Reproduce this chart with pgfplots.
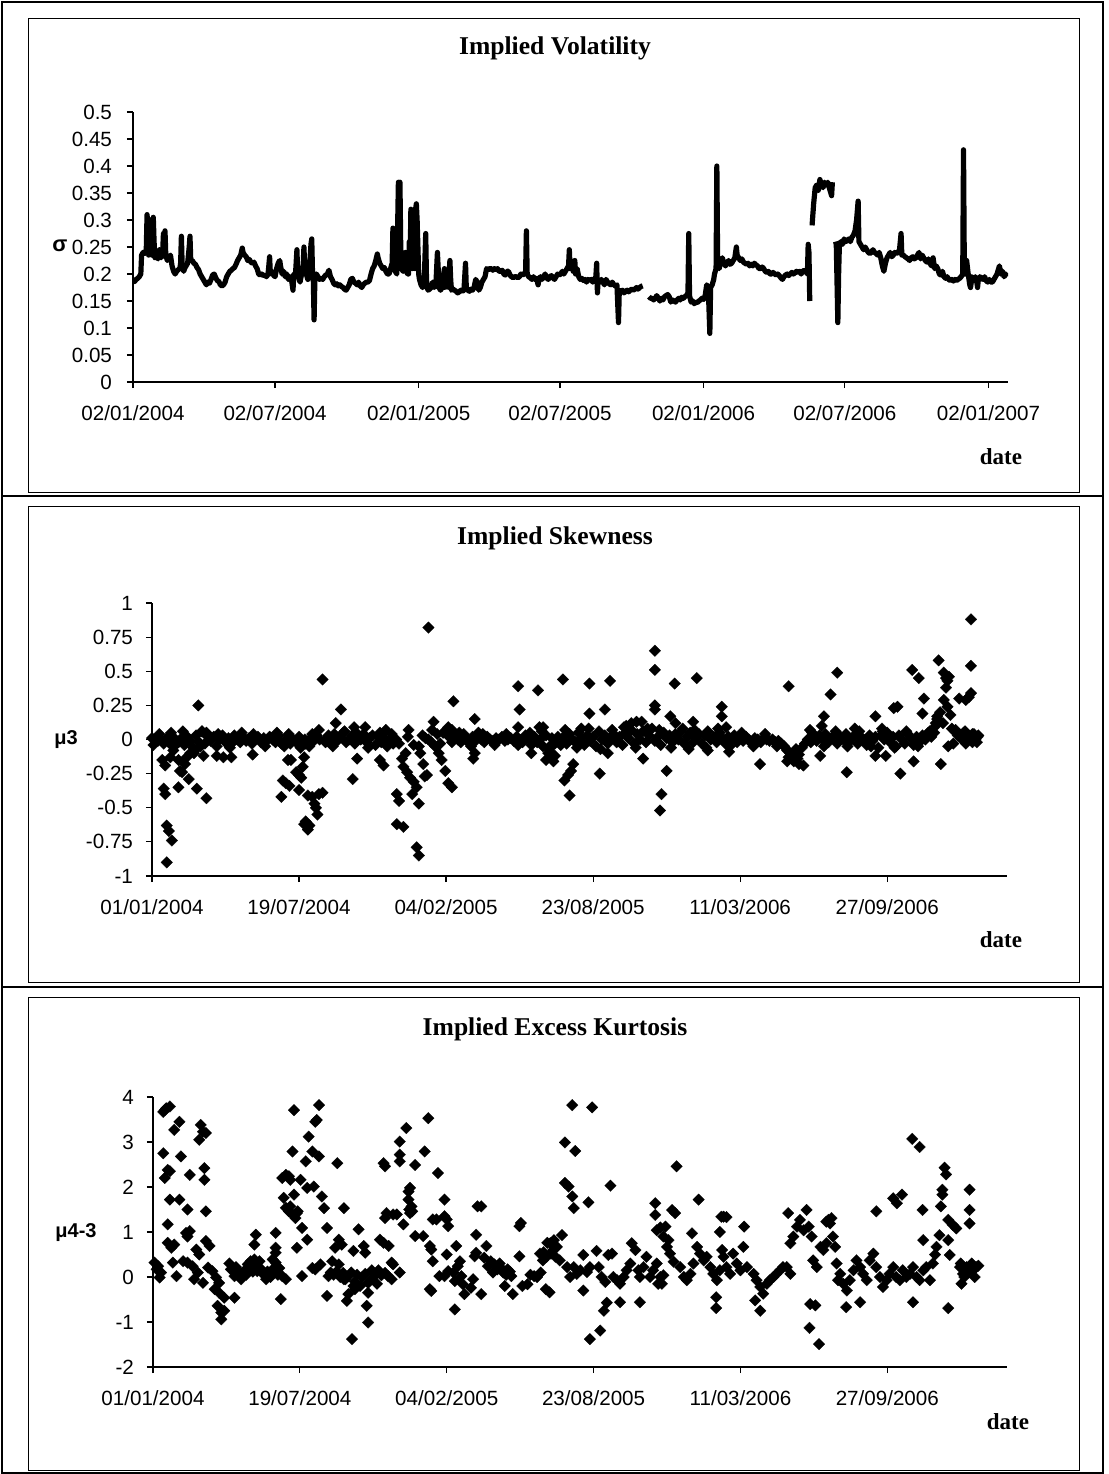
\documentclass[border=0pt]{standalone}
\usepackage{fontspec}
\setmainfont{Liberation Sans}
\newfontfamily\tnr{Liberation Serif}
\usepackage{pgfplots}
\usepackage{pgfplotstable}
\pgfplotsset{compat=1.18}

\pgfplotstableread[row sep=\\]{
x y\\
0 0.188\\ 2 0.186\\ 4 0.19\\ 6 0.192\\ 8 0.195\\ 10 0.2\\ 11 0.235\\ 13 0.24\\ 15 0.238\\ 17 0.245\\ 18 0.31\\ 19 0.29\\ 20 0.235\\ 22 0.30\\ 23 0.25\\ 24 0.235\\ 26 0.305\\ 27 0.26\\ 28 0.23\\ 30 0.232\\ 32 0.228\\ 34 0.245\\ 36 0.23\\ 38 0.24\\ 39 0.275\\ 40 0.235\\ 41 0.28\\ 42 0.235\\ 44 0.225\\ 46 0.23\\ 48 0.235\\ 50 0.215\\ 52 0.205\\ 54 0.2\\ 56 0.205\\ 58 0.208\\ 60 0.21\\ 61 0.22\\ 62 0.27\\ 63 0.215\\ 65 0.205\\ 66 0.21\\ 68 0.215\\ 70 0.22\\ 72 0.25\\ 73 0.27\\ 74 0.225\\ 76 0.225\\ 78 0.22\\ 80 0.218\\ 82 0.212\\ 84 0.208\\ 86 0.2\\ 88 0.195\\ 90 0.19\\ 92 0.185\\ 94 0.18\\ 96 0.185\\ 98 0.183\\ 100 0.19\\ 102 0.198\\ 104 0.2\\ 106 0.193\\ 108 0.188\\ 110 0.186\\ 112 0.18\\ 114 0.178\\ 116 0.18\\ 118 0.185\\ 120 0.195\\ 122 0.2\\ 124 0.205\\ 126 0.207\\ 128 0.21\\ 130 0.212\\ 132 0.218\\ 134 0.225\\ 136 0.23\\ 138 0.235\\ 140 0.248\\ 141 0.24\\ 143 0.235\\ 145 0.232\\ 147 0.225\\ 149 0.227\\ 151 0.222\\ 153 0.22\\ 155 0.222\\ 157 0.215\\ 159 0.21\\ 161 0.2\\ 163 0.198\\ 165 0.2\\ 167 0.197\\ 169 0.198\\ 171 0.195\\ 173 0.2\\ 174 0.215\\ 175 0.232\\ 176 0.2\\ 178 0.205\\ 180 0.198\\ 182 0.195\\ 184 0.21\\ 186 0.22\\ 188 0.225\\ 189 0.215\\ 191 0.2\\ 193 0.205\\ 195 0.195\\ 197 0.2\\ 199 0.19\\ 201 0.195\\ 203 0.19\\ 205 0.17\\ 206 0.2\\ 208 0.195\\ 210 0.245\\ 211 0.2\\ 213 0.19\\ 214 0.185\\ 216 0.2\\ 218 0.215\\ 219 0.25\\ 220 0.21\\ 222 0.2\\ 224 0.19\\ 226 0.21\\ 228 0.255\\ 229 0.265\\ 230 0.2\\ 231 0.19\\ 232 0.115\\ 233 0.19\\ 235 0.2\\ 237 0.195\\ 239 0.19\\ 241 0.192\\ 243 0.19\\ 245 0.195\\ 247 0.198\\ 249 0.2\\ 251 0.207\\ 253 0.195\\ 255 0.19\\ 257 0.183\\ 259 0.18\\ 261 0.182\\ 263 0.178\\ 265 0.18\\ 267 0.177\\ 269 0.175\\ 271 0.172\\ 273 0.17\\ 275 0.175\\ 277 0.18\\ 279 0.19\\ 281 0.192\\ 283 0.185\\ 285 0.183\\ 287 0.18\\ 289 0.185\\ 291 0.178\\ 293 0.175\\ 295 0.18\\ 297 0.183\\ 299 0.185\\ 301 0.185\\ 303 0.188\\ 305 0.2\\ 307 0.21\\ 309 0.215\\ 311 0.225\\ 313 0.237\\ 314 0.23\\ 316 0.22\\ 318 0.215\\ 320 0.21\\ 322 0.212\\ 324 0.205\\ 326 0.2\\ 328 0.2\\ 330 0.21\\ 332 0.22\\ 333 0.285\\ 334 0.21\\ 336 0.205\\ 338 0.2\\ 340 0.37\\ 341 0.3\\ 342 0.37\\ 343 0.25\\ 344 0.21\\ 346 0.205\\ 348 0.21\\ 349 0.24\\ 350 0.205\\ 352 0.2\\ 353 0.2\\ 354 0.26\\ 355 0.215\\ 356 0.32\\ 357 0.29\\ 358 0.21\\ 359 0.26\\ 360 0.27\\ 361 0.21\\ 362 0.32\\ 363 0.33\\ 364 0.3\\ 365 0.25\\ 366 0.2\\ 367 0.19\\ 369 0.18\\ 371 0.175\\ 373 0.18\\ 375 0.275\\ 376 0.19\\ 377 0.175\\ 378 0.17\\ 380 0.172\\ 382 0.175\\ 384 0.185\\ 386 0.175\\ 388 0.18\\ 390 0.24\\ 391 0.21\\ 392 0.175\\ 394 0.17\\ 396 0.175\\ 398 0.2\\ 399 0.21\\ 400 0.175\\ 402 0.178\\ 404 0.175\\ 406 0.225\\ 407 0.19\\ 408 0.17\\ 410 0.172\\ 412 0.17\\ 414 0.168\\ 416 0.165\\ 418 0.167\\ 420 0.17\\ 422 0.168\\ 424 0.17\\ 426 0.22\\ 427 0.175\\ 429 0.17\\ 431 0.168\\ 433 0.172\\ 435 0.17\\ 437 0.175\\ 439 0.19\\ 441 0.185\\ 443 0.17\\ 445 0.175\\ 447 0.185\\ 449 0.19\\ 451 0.195\\ 453 0.21\\ 455 0.208\\ 457 0.21\\ 459 0.21\\ 461 0.207\\ 463 0.21\\ 465 0.208\\ 467 0.21\\ 469 0.205\\ 471 0.205\\ 473 0.207\\ 475 0.2\\ 477 0.198\\ 479 0.205\\ 481 0.205\\ 483 0.198\\ 485 0.195\\ 487 0.193\\ 489 0.195\\ 491 0.195\\ 493 0.193\\ 495 0.195\\ 497 0.2\\ 499 0.198\\ 501 0.2\\ 503 0.205\\ 504 0.28\\ 505 0.2\\ 507 0.195\\ 509 0.193\\ 511 0.19\\ 513 0.195\\ 515 0.19\\ 517 0.192\\ 519 0.18\\ 520 0.19\\ 522 0.195\\ 524 0.19\\ 526 0.195\\ 528 0.2\\ 530 0.193\\ 532 0.19\\ 534 0.195\\ 536 0.197\\ 538 0.193\\ 540 0.19\\ 542 0.195\\ 544 0.2\\ 546 0.198\\ 548 0.2\\ 550 0.205\\ 552 0.2\\ 554 0.205\\ 556 0.21\\ 558 0.215\\ 559 0.245\\ 560 0.21\\ 562 0.215\\ 564 0.205\\ 566 0.225\\ 567 0.2\\ 569 0.21\\ 571 0.195\\ 573 0.19\\ 575 0.192\\ 577 0.188\\ 579 0.19\\ 581 0.185\\ 583 0.19\\ 585 0.188\\ 587 0.19\\ 589 0.185\\ 591 0.19\\ 593 0.195\\ 594 0.22\\ 595 0.165\\ 596 0.19\\ 598 0.185\\ 600 0.19\\ 602 0.185\\ 604 0.18\\ 606 0.19\\ 608 0.185\\ 610 0.182\\ 612 0.18\\ 614 0.185\\ 616 0.18\\ 618 0.178\\ 620 0.18\\ 622 0.11\\ 623 0.17\\ 625 0.168\\ 627 0.17\\ 629 0.165\\ 631 0.168\\ 633 0.17\\ 635 0.167\\ 637 0.17\\ 639 0.172\\ 641 0.17\\ 643 0.172\\ 645 0.175\\ 647 0.172\\ 649 0.175\\ 651 0.177\\ 653 0.178\\ 655 nan\\ 661 0.158\\ 663 0.155\\ 665 0.155\\ 667 0.152\\ 669 0.155\\ 671 0.16\\ 673 0.155\\ 675 0.15\\ 677 0.155\\ 679 0.152\\ 681 0.158\\ 683 0.16\\ 685 0.162\\ 687 0.158\\ 689 0.148\\ 691 0.152\\ 693 0.15\\ 695 0.148\\ 697 0.152\\ 699 0.155\\ 701 0.152\\ 703 0.157\\ 705 0.155\\ 707 0.158\\ 709 0.16\\ 711 0.165\\ 712 0.275\\ 713 0.16\\ 715 0.148\\ 717 0.15\\ 719 0.145\\ 721 0.148\\ 723 0.147\\ 725 0.15\\ 727 0.152\\ 729 0.155\\ 731 0.153\\ 733 0.16\\ 735 0.18\\ 737 0.175\\ 739 0.09\\ 740 0.175\\ 742 0.18\\ 744 0.19\\ 745 0.2\\ 747 0.21\\ 748 0.4\\ 749 0.22\\ 751 0.21\\ 753 0.225\\ 755 0.23\\ 757 0.22\\ 759 0.215\\ 761 0.22\\ 763 0.225\\ 765 0.218\\ 767 0.22\\ 769 0.225\\ 771 0.23\\ 773 0.25\\ 774 0.235\\ 776 0.23\\ 778 0.225\\ 780 0.228\\ 782 0.222\\ 784 0.22\\ 786 0.218\\ 788 0.22\\ 790 0.215\\ 792 0.218\\ 794 0.215\\ 796 0.22\\ 798 0.217\\ 800 0.215\\ 802 0.21\\ 804 0.21\\ 806 0.213\\ 808 0.21\\ 810 0.205\\ 812 0.203\\ 814 0.205\\ 816 0.2\\ 818 0.2\\ 820 0.203\\ 822 0.2\\ 824 0.198\\ 826 0.2\\ 828 0.197\\ 830 0.193\\ 832 0.19\\ 834 0.195\\ 836 0.198\\ 838 0.2\\ 840 0.197\\ 842 0.2\\ 844 0.203\\ 846 0.2\\ 848 0.202\\ 850 0.205\\ 852 0.203\\ 854 0.205\\ 856 0.2\\ 858 0.205\\ 860 0.207\\ 862 0.205\\ 864 0.2\\ 865 0.255\\ 866 0.24\\ 867 0.15\\ 868 nan\\ 870 0.29\\ 872 0.33\\ 874 0.36\\ 876 0.365\\ 878 0.355\\ 880 0.375\\ 882 0.365\\ 884 0.36\\ 886 0.37\\ 888 0.365\\ 890 0.37\\ 892 0.36\\ 894 0.35\\ 895 0.345\\ 896 0.37\\ 897 nan\\ 900 0.26\\ 901 0.255\\ 903 0.11\\ 904 0.2\\ 905 0.255\\ 907 0.26\\ 909 0.255\\ 911 0.265\\ 913 0.26\\ 915 0.262\\ 917 0.265\\ 919 0.26\\ 921 0.268\\ 923 0.272\\ 925 0.28\\ 927 0.3\\ 929 0.335\\ 930 0.26\\ 932 0.255\\ 934 0.25\\ 936 0.245\\ 938 0.25\\ 940 0.245\\ 942 0.24\\ 944 0.238\\ 946 0.24\\ 948 0.245\\ 950 0.24\\ 952 0.238\\ 954 0.235\\ 956 0.24\\ 958 0.23\\ 960 0.215\\ 962 0.205\\ 964 0.22\\ 966 0.23\\ 968 0.235\\ 970 0.24\\ 972 0.232\\ 974 0.235\\ 976 0.24\\ 978 0.238\\ 980 0.24\\ 982 0.245\\ 984 0.275\\ 985 0.235\\ 987 0.235\\ 989 0.232\\ 991 0.23\\ 993 0.228\\ 995 0.225\\ 997 0.23\\ 999 0.232\\ 1001 0.228\\ 1003 0.23\\ 1005 0.235\\ 1007 0.24\\ 1009 0.228\\ 1011 0.235\\ 1013 0.23\\ 1015 0.225\\ 1017 0.222\\ 1019 0.228\\ 1021 0.22\\ 1023 0.215\\ 1025 0.23\\ 1027 0.21\\ 1029 0.215\\ 1031 0.21\\ 1033 0.2\\ 1035 0.198\\ 1037 0.205\\ 1039 0.195\\ 1041 0.192\\ 1043 0.195\\ 1045 0.19\\ 1047 0.188\\ 1049 0.19\\ 1051 0.187\\ 1053 0.19\\ 1055 0.188\\ 1057 0.19\\ 1059 0.192\\ 1061 0.195\\ 1063 0.2\\ 1064 0.43\\ 1065 0.22\\ 1066 0.2\\ 1068 0.225\\ 1070 0.2\\ 1072 0.18\\ 1073 0.175\\ 1075 0.195\\ 1077 0.19\\ 1079 0.195\\ 1081 0.185\\ 1082 0.175\\ 1083 0.19\\ 1085 0.195\\ 1087 0.192\\ 1089 0.19\\ 1091 0.195\\ 1093 0.188\\ 1095 0.185\\ 1097 0.19\\ 1099 0.185\\ 1101 0.185\\ 1103 0.19\\ 1105 0.195\\ 1107 0.2\\ 1109 0.21\\ 1110 0.215\\ 1112 0.2\\ 1114 0.205\\ 1116 0.195\\ 1118 0.2\\ 1119 0.195\\
}\vol

\pgfplotstableread[row sep=\\]{
x y\\
0 0.01\\ 4 0.0\\ 8 -0.01\\ 12 0.0\\ 16 -0.03\\ 20 0.01\\ 24 -0.02\\ 28 -0.05\\ 32 0.0\\ 36 -0.02\\ 40 0.01\\ 44 -0.04\\ 48 0.02\\ 52 -0.01\\ 56 -0.06\\ 60 0.03\\ 64 -0.02\\ 68 0.06\\ 72 -0.03\\ 76 0.02\\ 80 -0.01\\ 84 0.02\\ 88 -0.05\\ 92 0.0\\ 96 0.03\\
100 -0.02\\ 104 0.01\\ 108 -0.03\\ 112 0.03\\ 116 0.0\\ 120 -0.02\\ 124 0.02\\ 128 -0.01\\ 132 0.01\\ 136 -0.03\\ 140 0.0\\ 144 0.02\\ 148 -0.02\\ 152 0.01\\ 156 -0.01\\ 160 0.02\\ 164 0.0\\ 168 -0.02\\ 172 0.03\\ 176 -0.03\\
180 -0.05\\ 184 0.01\\ 188 -0.03\\ 192 0.0\\ 196 -0.02\\ 200 0.02\\ 204 -0.04\\ 208 0.0\\ 212 -0.02\\ 216 0.01\\ 220 -0.01\\ 224 0.03\\ 228 0.0\\
236 -0.02\\ 240 0.03\\ 244 0.01\\ 248 0.04\\ 252 -0.01\\ 256 0.02\\ 260 0.05\\ 264 -0.02\\ 268 0.0\\ 272 0.03\\ 276 -0.03\\ 280 0.02\\ 284 0.0\\ 288 0.04\\ 292 -0.02\\ 296 0.01\\ 300 0.03\\ 304 -0.04\\ 308 0.02\\ 312 -0.02\\ 316 0.01\\ 320 -0.05\\ 324 0.0\\ 328 -0.03\\
332 0.0\\ 336 -0.03\\ 348 0.02\\ 356 -0.04\\ 368 0.03\\ 372 0.01\\ 380 -0.02\\ 388 0.04\\ 392 -0.03\\ 396 0.05\\ 404 0.02\\ 408 -0.02\\
412 0.03\\ 416 0.0\\ 420 -0.02\\ 424 0.04\\ 428 0.01\\ 432 -0.03\\ 436 0.02\\ 440 -0.01\\ 444 0.03\\ 448 0.0\\ 452 -0.02\\ 456 0.02\\ 460 0.0\\ 464 -0.01\\ 468 0.01\\ 472 0.0\\ 476 0.02\\ 480 -0.01\\ 484 0.0\\ 488 0.01\\ 492 -0.01\\ 496 0.02\\ 500 0.0\\ 504 -0.02\\ 508 0.03\\ 512 0.01\\ 516 -0.04\\ 520 0.02\\ 524 -0.02\\ 528 0.0\\ 532 -0.05\\ 536 0.03\\ 540 -0.07\\ 544 0.01\\ 548 -0.03\\ 552 0.02\\ 556 -0.04\\
560 0.02\\ 564 -0.03\\ 568 0.04\\ 572 0.0\\ 576 -0.02\\ 580 0.05\\ 584 0.01\\ 588 -0.04\\ 592 0.03\\ 596 -0.01\\ 600 0.02\\ 604 -0.05\\ 608 0.06\\ 612 0.0\\ 616 0.03\\ 620 -0.03\\ 624 0.01\\ 628 0.04\\ 632 -0.02\\ 636 0.02\\ 640 -0.04\\ 644 0.05\\ 648 0.01\\ 652 0.07\\ 656 -0.03\\ 660 0.04\\ 664 0.0\\ 668 0.06\\ 672 -0.02\\ 676 0.03\\ 680 0.08\\ 684 -0.01\\ 688 0.02\\ 692 -0.04\\ 696 0.05\\ 700 0.01\\
704 0.03\\ 708 -0.02\\ 712 0.04\\ 716 0.0\\ 720 0.06\\ 724 -0.03\\ 728 0.02\\ 732 0.05\\ 736 -0.02\\ 740 0.01\\ 744 0.04\\ 748 -0.03\\ 752 0.03\\ 756 0.06\\ 760 0.0\\ 764 0.02\\ 768 -0.02\\ 772 0.05\\ 776 0.01\\ 780 -0.03\\ 784 0.02\\ 788 0.0\\ 792 0.03\\ 796 -0.02\\ 800 0.01\\ 804 -0.01\\ 808 0.02\\ 812 0.0\\ 816 -0.03\\ 820 0.01\\ 824 0.0\\ 828 -0.02\\ 832 0.01\\ 836 0.0\\ 840 -0.01\\ 844 0.0\\ 848 -0.02\\ 852 -0.01\\
856 -0.03\\ 860 -0.05\\ 864 -0.08\\ 868 -0.1\\ 872 -0.12\\ 876 -0.07\\ 880 -0.11\\ 884 -0.06\\ 888 -0.03\\
892 0.0\\ 896 -0.02\\ 900 0.02\\ 904 -0.01\\ 908 0.03\\ 912 0.0\\ 916 0.04\\ 920 -0.02\\ 924 0.01\\ 928 0.03\\ 932 -0.03\\ 936 0.02\\ 940 0.0\\ 944 0.04\\ 948 -0.02\\ 952 0.01\\ 956 0.03\\ 960 -0.03\\ 964 0.02\\ 968 0.0\\ 972 -0.04\\ 976 0.03\\ 980 -0.01\\ 984 0.02\\ 988 -0.06\\ 992 0.03\\ 996 0.0\\ 1000 0.05\\ 1004 -0.02\\ 1008 0.02\\ 1012 -0.05\\ 1016 0.03\\ 1020 0.0\\ 1024 -0.03\\ 1028 0.04\\ 1032 0.01\\ 1036 -0.04\\ 1040 0.02\\ 1044 -0.02\\ 1048 0.03\\ 1052 0.0\\ 1056 0.05\\ 1060 0.02\\
1064 0.05\\ 1066 0.1\\ 1068 0.15\\ 1072 0.2\\ 1076 0.12\\ 1088 0.08\\ 1092 0.06\\ 1096 0.03\\ 1100 0.01\\ 1104 0.05\\ 1108 -0.01\\ 1112 0.02\\ 1116 0.04\\ 1120 0.0\\ 1124 0.03\\
2 -0.04\\ 10 0.04\\ 26 0.05\\ 42 0.06\\ 58 -0.08\\ 74 0.05\\ 90 0.04\\ 106 -0.06\\ 122 0.05\\ 138 0.04\\ 154 -0.05\\ 170 0.05\\ 186 0.04\\ 202 -0.06\\ 218 0.04\\ 246 -0.05\\ 262 0.06\\ 278 0.05\\ 294 -0.06\\ 310 0.05\\ 326 0.04\\ 418 0.05\\ 434 -0.05\\ 450 0.04\\ 466 -0.04\\ 482 0.04\\ 498 -0.04\\ 514 0.05\\ 530 0.06\\ 562 0.07\\ 578 -0.06\\ 594 0.08\\ 610 -0.07\\ 626 0.07\\ 642 0.09\\ 658 -0.06\\ 674 0.08\\ 690 0.07\\ 706 -0.06\\ 722 0.08\\ 738 0.07\\ 754 -0.06\\ 770 0.08\\ 786 -0.05\\ 802 0.05\\ 818 -0.05\\ 834 0.04\\ 850 -0.05\\ 866 -0.13\\ 878 -0.14\\ 898 0.05\\ 914 -0.05\\ 930 0.06\\ 946 -0.05\\ 962 0.06\\ 978 -0.05\\ 994 0.06\\ 1010 -0.06\\ 1026 0.06\\ 1042 -0.05\\ 1058 0.06\\ 1090 -0.03\\ 1106 0.06\\ 1122 -0.02\\
14 -0.15\\ 18 -0.19\\ 16 -0.36\\ 18 -0.4\\ 20 -0.63\\ 23 -0.67\\ 27 -0.74\\ 20 -0.9\\ 25 -0.13\\ 29 -0.08\\ 32 -0.04\\ 36 -0.15\\ 38 -0.23\\ 41 -0.24\\ 36 -0.35\\ 50 -0.29\\ 45 -0.18\\ 47 -0.13\\ 52 -0.1\\ 61 -0.36\\ 63 0.25\\ 74 -0.43\\ 57 -0.1\\ 66 -0.05\\ 70 -0.12\\ 68 0.06\\ 88 -0.12\\ 97 -0.13\\ 108 -0.13\\ 137 -0.11\\
176 -0.42\\ 178 -0.3\\ 182 -0.32\\ 187 -0.34\\ 185 -0.15\\ 189 -0.15\\ 196 -0.24\\ 200 -0.26\\ 203 -0.28\\ 200 -0.37\\ 205 -0.2\\ 207 -0.13\\ 209 -0.03\\ 214 -0.05\\ 212 -0.41\\ 207 -0.62\\ 212 -0.66\\ 214 -0.63\\ 209 -0.6\\ 218 -0.42\\ 221 -0.47\\ 225 -0.55\\ 223 -0.5\\ 227 -0.4\\ 232 -0.39\\ 227 0.07\\ 232 0.44\\ 236 0.0\\ 250 0.12\\ 257 0.22\\ 275 0.09\\ 290 0.09\\ 273 -0.29\\ 279 -0.14\\ 315 -0.19\\ 318 0.07\\ 310 -0.15\\
333 -0.4\\ 336 -0.45\\ 333 -0.62\\ 342 -0.64\\ 340 -0.14\\ 345 -0.1\\ 349 0.07\\ 342 -0.2\\ 347 -0.24\\ 351 -0.28\\ 356 -0.31\\ 354 -0.4\\ 360 -0.35\\ 363 -0.47\\ 360 -0.79\\ 363 -0.85\\ 363 -0.05\\ 365 -0.1\\ 369 -0.18\\ 374 -0.26\\ 371 -0.27\\ 376 0.82\\ 376 0.0\\ 381 0.07\\ 383 0.13\\ 385 -0.05\\ 390 -0.1\\ 394 -0.15\\ 399 -0.23\\ 403 -0.32\\ 408 -0.35\\ 403 0.09\\ 408 0.07\\ 410 0.28\\ 437 -0.14\\ 439 -0.1\\ 439 0.15\\ 444 0.05\\ 498 0.39\\ 500 0.22\\ 498 0.09\\ 516 -0.1\\ 525 0.36\\ 527 0.09\\ 536 -0.15\\ 543 -0.1\\
532 0.09\\ 541 -0.05\\ 539 -0.1\\ 543 -0.13\\ 546 -0.16\\ 548 -0.12\\ 559 0.44\\ 561 -0.3\\ 566 -0.26\\ 573 -0.18\\ 570 -0.23\\ 568 -0.41\\ 584 0.08\\ 595 0.41\\ 595 0.19\\ 609 -0.25\\ 616 0.22\\ 623 0.43\\ 620 -0.1\\ 645 0.1\\ 652 0.12\\ 659 0.13\\ 666 0.13\\ 668 -0.14\\ 684 0.65\\ 684 0.51\\ 684 0.25\\ 684 0.22\\ 700 -0.23\\ 693 -0.4\\ 691 -0.52\\ 705 0.17\\ 711 0.41\\ 712 0.12\\ 730 -0.07\\ 736 0.13\\ 741 0.45\\ 756 -0.08\\ 775 0.24\\ 775 0.17\\ 781 0.09\\ 785 -0.09\\ 827 -0.18\\ 866 0.39\\ 864 -0.16\\ 873 -0.16\\ 880 -0.18\\ 886 -0.19\\ 895 0.07\\ 909 -0.12\\ 911 0.1\\ 914 0.17\\ 923 0.33\\ 932 0.49\\ 945 -0.24\\ 956 0.08\\ 984 0.17\\ 984 -0.12\\ 998 -0.12\\ 993 0.08\\ 1009 0.23\\ 1014 0.24\\ 1018 -0.25\\ 1034 0.51\\ 1043 0.45\\ 1036 -0.16\\ 1050 0.3\\ 1048 0.19\\ 1066 0.12\\ 1068 0.17\\ 1070 0.58\\ 1073 -0.18\\ 1077 0.49\\ 1080 0.45\\ 1082 0.43\\ 1084 0.46\\ 1080 0.38\\ 1077 0.29\\ 1082 0.24\\ 1086 0.18\\ 1083 -0.05\\ 1093 0.07\\ 1098 0.04\\ 1102 0.02\\ 1107 -0.03\\ 1098 0.3\\ 1107 0.29\\ 1111 0.31\\ 1114 0.34\\ 1114 0.54\\ 1114 0.88\\ 1118 0.04\\ 1123 0.02\\ 1116 -0.02\\
}\skew

\pgfplotstableread[row sep=\\]{
x y\\
2 0.32\\ 5 0.17\\ 7 0.24\\ 9 -0.01\\ 11 0.1\\ 14 3.67\\ 16 3.71\\ 18 3.75\\ 23 3.79\\ 14 2.75\\ 16 2.2\\ 20 2.38\\ 23 2.35\\ 23 1.72\\ 36 1.72\\ 20 1.17\\ 20 0.76\\ 25 0.65\\ 29 0.72\\ 27 0.32\\ 32 0.02\\ 29 3.27\\ 36 3.45\\ 38 2.68\\ 41 0.35\\ 47 0.32\\ 45 0.98\\ 50 1.02\\ 47 0.9\\ 47 1.5\\ 50 2.27\\ 54 0.24\\ 56 -0.05\\ 61 0.1\\ 59 0.61\\ 63 0.5\\ 63 3.05\\ 65 3.38\\ 68 3.23\\ 72 3.2\\ 70 2.42\\ 70 2.16\\ 72 1.46\\ 72 0.8\\ 77 0.69\\ 68 -0.13\\ 75 0.21\\ 81 0.13\\ 86 -0.01\\ 90 -0.13\\ 84 -0.27\\ 88 -0.64\\ 93 -0.79\\ 97 -0.75\\ 93 -0.94\\ 90 -0.35\\ 97 -0.46\\ 111 -0.46\\
104 0.3\\ 106 0.17\\ 111 0.02\\ 115 0.1\\ 120 -0.05\\ 124 0.13\\ 129 0.28\\ 133 0.35\\ 138 0.39\\ 140 0.24\\ 142 0.13\\ 145 0.35\\ 149 0.1\\ 154 -0.05\\ 158 0.02\\ 163 0.17\\ 167 0.32\\ 172 0.2\\ 176 0.02\\ 181 -0.05\\ 113 0.22\\ 118 0.08\\ 127 0.05\\ 131 0.2\\ 136 0.12\\ 147 0.18\\ 151 0.05\\ 156 0.12\\ 160 0.0\\ 165 0.1\\ 170 0.05\\ 140 0.94\\ 138 0.72\\ 167 0.98\\ 167 0.65\\ 167 0.54\\ 163 0.39\\ 174 -0.49\\
176 2.2\\ 181 2.27\\ 185 2.24\\ 187 2.16\\ 190 2.79\\ 192 3.71\\ 192 1.83\\ 178 1.76\\ 181 1.54\\ 185 1.46\\ 187 1.57\\ 190 1.39\\ 196 1.42\\ 194 1.31\\ 197 1.46\\ 196 0.65\\ 203 0.02\\ 201 2.16\\ 203 1.09\\ 210 0.83\\ 208 2.57\\ 212 3.12\\ 210 1.98\\ 217 2.79\\ 219 2.01\\ 221 3.45\\ 223 3.49\\ 226 3.82\\ 226 2.68\\ 217 0.2\\ 221 0.17\\ 228 0.28\\ 230 1.79\\ 233 1.53\\ 237 1.09\\ 237 -0.42\\
239 0.02\\ 242 0.1\\ 246 0.05\\ 250 0.12\\ 255 0.0\\ 259 0.09\\ 262 -0.05\\ 266 0.02\\ 270 0.1\\ 275 -0.1\\ 278 0.05\\ 282 -0.2\\ 244 0.35\\ 248 0.65\\ 253 0.83\\ 257 0.72\\ 251 2.53\\ 260 1.53\\ 253 0.28\\ 260 -0.05\\ 264 -0.53\\ 266 -0.38\\ 271 -1.38\\ 273 -0.2\\ 275 -0.27\\ 273 0.58\\ 280 1.06\\ 287 0.69\\ 289 0.54\\ 291 -0.64\\ 293 -1.01\\
285 0.0\\ 289 0.07\\ 293 -0.13\\ 298 0.15\\ 302 0.07\\ 307 0.15\\ 311 0.04\\ 316 0.09\\ 320 0.02\\ 325 -0.05\\ 327 0.28\\ 336 0.1\\ 293 -0.35\\ 300 0.0\\ 305 -0.15\\
309 0.83\\ 314 0.76\\ 316 1.31\\ 318 1.42\\ 321 0.69\\ 314 2.53\\ 316 2.46\\ 325 0.32\\ 327 1.39\\ 332 1.39\\ 336 2.72\\ 336 2.57\\ 336 3.01\\ 341 1.17\\ 345 3.31\\ 348 1.9\\ 350 1.98\\ 348 1.72\\ 352 1.57\\ 350 1.42\\ 353 1.46\\ 349 1.5\\ 357 2.49\\ 357 0.91\\ 368 0.91\\ 370 2.79\\ 375 3.53\\ 377 0.69\\ 379 0.61\\ 381 0.35\\ 379 -0.31\\ 377 -0.27\\ 381 1.28\\ 386 1.28\\ 388 2.31\\ 390 0.02\\ 397 1.72\\ 397 1.35\\ 400 1.28\\ 402 1.13\\ 397 0.02\\ 402 0.13\\ 400 0.5\\ 411 -0.72\\ 413 0.69\\ 409 0.1\\ 411 -0.09\\ 415 0.24\\ 418 0.35\\ 420 0.02\\ 422 -0.16\\ 424 -0.38\\ 433 -0.24\\ 436 -0.05\\ 438 0.46\\ 440 0.54\\ 440 0.94\\ 442 1.57\\ 447 1.57\\ 447 -0.38\\ 451 0.43\\ 454 0.69\\
456 0.24\\ 460 0.35\\ 465 0.28\\ 469 0.17\\ 474 0.2\\ 477 0.1\\ 479 -0.2\\ 483 0.17\\ 488 0.02\\ 490 -0.38\\ 463 0.1\\ 472 0.3\\ 481 0.05\\ 486 0.12\\ 499 1.13\\ 501 1.2\\ 499 0.46\\ 503 -0.2\\ 510 -0.16\\ 514 0.05\\ 519 0.02\\ 523 0.0\\ 528 0.1\\ 532 0.55\\ 535 -0.27\\ 537 0.76\\ 542 0.52\\ 546 0.82\\ 548 0.45\\
571 3.82\\ 598 3.77\\ 561 2.99\\ 575 2.8\\ 561 2.09\\ 566 2.01\\ 571 1.79\\ 573 1.53\\ 593 1.66\\ 623 2.03\\ 527 0.52\\ 531 0.37\\ 536 0.45\\ 541 0.75\\ 545 0.6\\ 550 0.67\\ 554 0.37\\ 557 0.93\\ 564 0.22\\ 568 0.0\\ 573 0.22\\ 577 0.07\\ 582 0.15\\ 586 0.49\\ 591 0.11\\ 595 0.22\\ 540 -0.34\\ 586 -0.3\\
604 0.58\\ 607 0.22\\ 611 0.0\\ 616 -0.11\\ 620 0.49\\ 625 0.52\\ 618 -0.57\\ 614 -0.75\\ 609 -1.19\\ 595 -1.38\\
627 0.0\\ 632 -0.07\\ 636 -0.15\\ 641 0.0\\ 645 0.15\\ 650 0.3\\ 652 0.75\\ 657 0.6\\ 661 0.15\\ 663 0.0\\ 668 0.22\\ 672 0.45\\ 677 0.0\\ 681 0.15\\ 686 0.3\\ 688 -0.15\\ 636 -0.56\\ 663 -0.56\\
684 1.64\\ 684 1.38\\ 686 1.04\\ 691 1.1\\ 695 0.9\\ 698 1.12\\ 702 0.82\\ 700 0.67\\ 704 0.52\\ 709 0.34\\ 691 0.0\\ 695 0.04\\ 693 -0.15\\ 707 1.49\\ 711 1.42\\ 713 2.46\\
718 0.22\\ 723 0.0\\ 727 -0.07\\ 732 0.07\\ 736 0.3\\ 741 0.67\\ 745 0.52\\ 750 0.37\\ 754 0.45\\ 759 0.22\\ 763 0.07\\ 768 -0.07\\ 772 0.15\\ 777 0.45\\ 781 0.22\\ 786 0.07\\ 790 0.52\\ 795 0.3\\ 800 0.15\\ 734 0.97\\ 743 1.72\\ 767 -0.45\\ 767 -0.69\\ 772 1.0\\ 777 1.34\\ 781 1.33\\ 774 1.34\\ 805 1.12\\ 775 0.6\\
804 0.67\\ 809 0.22\\ 818 0.07\\ 822 -0.07\\ 827 -0.22\\ 831 -0.37\\ 836 -0.15\\ 840 -0.07\\ 845 0.0\\ 849 0.07\\ 854 0.15\\ 858 0.22\\ 863 0.22\\ 868 0.07\\ 820 -0.52\\ 827 -0.75\\
865 1.42\\ 868 0.75\\ 872 0.9\\ 877 1.12\\ 881 1.27\\ 886 1.04\\ 890 1.49\\ 893 1.12\\ 897 0.9\\ 895 -0.6\\ 902 -0.63\\ 894 -1.13\\ 907 -1.49\\
899 0.37\\ 904 0.22\\ 909 0.67\\ 913 0.6\\ 917 0.75\\ 920 1.27\\ 922 1.19\\ 926 0.9\\ 929 0.67\\ 931 0.3\\ 933 -0.07\\ 936 0.07\\ 940 -0.15\\ 945 -0.3\\ 949 -0.07\\ 954 0.15\\ 958 0.37\\ 963 0.22\\ 967 0.07\\ 972 -0.07\\ 976 0.37\\ 981 0.52\\ 985 0.22\\ 990 0.0\\ 994 -0.22\\ 999 -0.07\\ 1003 0.07\\ 1008 0.22\\ 1012 0.0\\ 1017 -0.07\\ 1021 0.15\\ 1026 0.0\\ 1031 0.07\\ 1035 0.22\\ 1040 0.0\\ 1044 -0.07\\ 1049 0.15\\ 1053 0.22\\ 1058 -0.07\\
917 1.23\\ 924 1.31\\ 944 -0.67\\ 963 -0.56\\ 985 1.46\\ 1008 1.75\\ 1013 1.64\\ 1020 1.83\\ 1034 3.07\\ 1044 2.89\\ 1035 -0.56\\ 1048 1.49\\ 1049 0.82\\
1067 0.67\\ 1071 0.93\\ 1073 1.57\\ 1075 1.83\\ 1075 1.94\\ 1078 2.43\\ 1080 2.28\\ 1083 0.82\\ 1085 0.49\\ 1089 1.16\\ 1094 1.08\\ 1083 1.27\\ 1083 -0.69\\ 1099 0.22\\ 1103 0.07\\ 1108 0.22\\ 1112 1.19\\ 1112 1.49\\ 1112 1.94\\ 1117 0.15\\ 1121 0.22\\ 1101 -0.15\\ 1062 0.3\\ 1065 0.5\\ 1100 0.3\\ 1105 0.0\\ 1110 0.1\\ 1115 0.3\\ 1119 0.0\\ 1124 0.25\\
}\kurt

\pgfplotsset{
  excel/.style={
    scale only axis,
    axis lines*=left,
    axis line style={line width=0.6pt, black},
    tick style={line width=0.6pt, black},
    tick align=outside,
    major tick length=3pt,
    ticklabel style={font=\fontsize{10.3}{12}\selectfont},
    xticklabel style={anchor=north, yshift=-5pt},
    yticklabel style={anchor=east, xshift=-3pt},
    clip=false,
  },
  dia/.style={only marks, mark=square*, mark size=2.05pt,
    mark options={rotate=45, fill=black, draw=black, line width=0.1pt}},
}

\begin{document}
\begin{tikzpicture}
\useasboundingbox (0,0) rectangle (554.5pt,-737pt);
% frames
\draw[line width=0.9pt] (1pt,-1pt) rectangle (551.5pt,-736.5pt);
\draw[line width=0.9pt] (1pt,-248pt) -- (551.5pt,-248pt);
\draw[line width=0.9pt] (1pt,-493.5pt) -- (551.5pt,-493.5pt);
\draw[line width=0.4pt] (14pt,-9pt) rectangle (539.5pt,-246pt);
\draw[line width=0.4pt] (14pt,-253pt) rectangle (539.5pt,-491pt);
\draw[line width=0.4pt] (14pt,-498.5pt) rectangle (539.5pt,-735pt);

% Panel 1
\begin{axis}[excel, at={(66.5pt,-191pt)}, anchor=south west,
  width=437.5pt, height=135pt,
  xmin=0, xmax=1121, ymin=0, ymax=0.5,
  xtick={0,182,366,547,731,912,1096},
  xticklabels={02/01/2004,02/07/2004,02/01/2005,02/07/2005,02/01/2006,02/07/2006,02/01/2007},
  ytick={0,0.05,0.1,0.15,0.2,0.25,0.3,0.35,0.4,0.45,0.5},
  yticklabels={0,0.05,0.1,0.15,0.2,0.25,0.3,0.35,0.4,0.45,0.5},
  yticklabel style={xshift=-1pt},
  unbounded coords=jump, clip=true]
\addplot[black, line width=2.6pt, line join=round, mark=none] table {\vol};
\end{axis}

% Panel 2
\begin{axis}[excel, at={(76pt,-438pt)}, anchor=south west,
  width=427.5pt, height=136.5pt,
  xmin=0, xmax=1163, ymin=-1, ymax=1,
  xtick={0,200,400,600,800,1000},
  xticklabels={01/01/2004,19/07/2004,04/02/2005,23/08/2005,11/03/2006,27/09/2006},
  ytick={-1,-0.75,-0.5,-0.25,0,0.25,0.5,0.75,1},
  yticklabels={-1,-0.75,-0.5,-0.25,0,0.25,0.5,0.75,1}]
\addplot[dia] table {\skew};
\end{axis}

% Panel 3
\begin{axis}[excel, at={(76.5pt,-683.5pt)}, anchor=south west,
  width=427pt, height=135pt,
  xmin=0, xmax=1163, ymin=-2, ymax=4,
  xtick={0,200,400,600,800,1000},
  xticklabels={01/01/2004,19/07/2004,04/02/2005,23/08/2005,11/03/2006,27/09/2006},
  ytick={-2,-1,0,1,2,3,4},
  yticklabels={-2,-1,0,1,2,3,4}]
\addplot[dia] table {\kurt};
\end{axis}

% titles and labels
\node[font=\tnr\bfseries\fontsize{12.8}{14}\selectfont] at (277.5pt,-24pt) {Implied Volatility};
\node[font=\tnr\bfseries\fontsize{12.8}{14}\selectfont] at (277.5pt,-269pt) {Implied Skewness};
\node[font=\tnr\bfseries\fontsize{12.8}{14}\selectfont] at (277.5pt,-514.5pt) {Implied Excess Kurtosis};
\node[font=\tnr\bfseries\fontsize{11.5}{13}\selectfont] at (500.5pt,-228.5pt) {date};
\node[font=\tnr\bfseries\fontsize{11.5}{13}\selectfont] at (500.5pt,-470pt) {date};
\node[font=\tnr\bfseries\fontsize{11.5}{13}\selectfont] at (504pt,-711pt) {date};
\node[font=\bfseries\fontsize{11}{13}\selectfont] at (30pt,-123pt) {σ};
\node[font=\bfseries\fontsize{10}{12}\selectfont] at (33pt,-370pt) {μ3};
\node[font=\bfseries\fontsize{10}{12}\selectfont] at (38pt,-616.5pt) {μ4-3};
\end{tikzpicture}
\end{document}
